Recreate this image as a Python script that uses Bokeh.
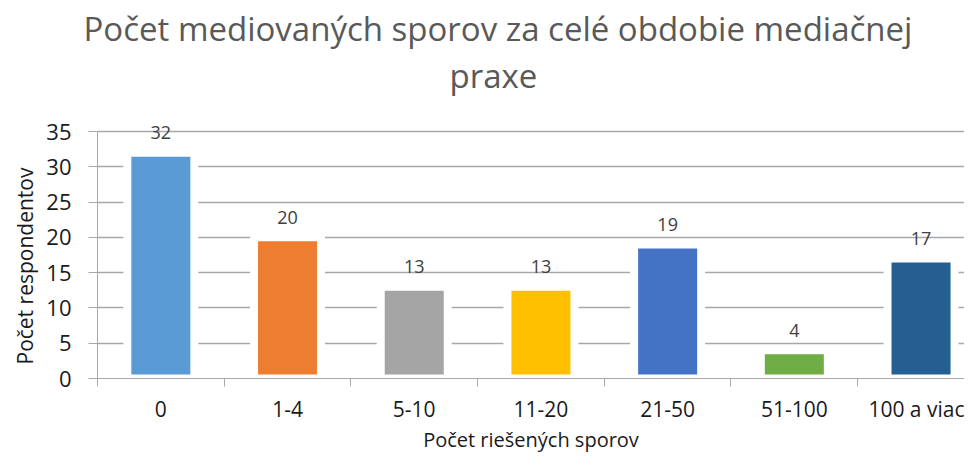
from bokeh.plotting import figure
from bokeh.models import Range1d, FixedTicker, Title, ColumnDataSource
from bokeh.core.properties import value
from bokeh.embed import file_html
from bokeh.resources import INLINE

categories = ["0", "1-4", "5-10", "11-20", "21-50", "51-100", "100 a viac"]
counts = [32, 20, 13, 13, 19, 4, 17]
bar_colors = ["#5B9BD5", "#ED7D31", "#A5A5A5", "#FFC000", "#4472C4", "#70AD47", "#255E91"]
y_ticks = [0, 5, 10, 15, 20, 25, 30, 35]

title_line1 = "Počet mediovaných sporov za celé obdobie mediačnej"
title_line2 = "praxe"
x_title = "Počet riešených sporov"
y_title = "Počet respondentov"

FONT = "Open Sans"
GRAY = "#a8a8a8"
DARK = "#1a1a1a"

centers = [i + 0.5 for i in range(len(categories))]
bounds = list(range(len(categories) + 1))

src = ColumnDataSource(dict(x=centers, top=counts, color=bar_colors,
                            label=[str(v) for v in counts]))

# value axis runs to 35; the frame leaves headroom for the value labels
p = figure(width=964, height=458,
           x_range=Range1d(0, 6.843), y_range=Range1d(0, 39.82),
           output_backend="svg", toolbar_location=None,
           min_border_left=97, min_border_right=0,
           min_border_top=97, min_border_bottom=80,
           outline_line_color=None)

p.vbar(x="x", top="top", width=0.529, bottom=0, source=src,
       fill_color="color", line_color="white", line_width=8)

p.text(x="x", y="top", text="label", source=src,
       text_align="center", text_baseline="alphabetic", y_offset=-20,
       text_font=value(FONT), text_font_size="18px", text_color="#404040")

# y axis
ya = p.yaxis[0]
ya.ticker = FixedTicker(ticks=y_ticks)
ya.bounds = (y_ticks[0], y_ticks[-1])
ya.major_label_text_font = FONT
ya.major_label_text_font_size = "22px"
ya.major_label_text_color = DARK
ya.major_label_standoff = 17
ya.axis_line_color = GRAY
ya.major_tick_line_color = GRAY
ya.major_tick_out = 9
ya.major_tick_in = 0
ya.minor_tick_line_color = None

# y axis title, centred on the 0-35 span of the axis
p.add_layout(Title(text=y_title, align="left", offset=14,
                   vertical_align="bottom", standoff=10,
                   text_font=FONT, text_font_size="21px",
                   text_font_style="normal", text_color=DARK), "left")

# x axis
xa = p.xaxis[0]
xa.ticker = FixedTicker(ticks=centers, minor_ticks=bounds)
xa.major_label_overrides = {c: lab for c, lab in zip(centers, categories)}
xa.major_label_text_font = FONT
xa.major_label_text_font_size = "21px"
xa.major_label_text_color = DARK
xa.major_label_standoff = 8
xa.axis_label = x_title
xa.axis_label_text_font = FONT
xa.axis_label_text_font_size = "20px"
xa.axis_label_text_font_style = "normal"
xa.axis_label_text_color = DARK
xa.axis_label_standoff = 0
xa.axis_line_color = GRAY
xa.major_tick_line_color = None
xa.minor_tick_line_color = GRAY
xa.minor_tick_out = 8
xa.minor_tick_in = 0

p.xgrid.grid_line_color = None
p.ygrid.ticker = FixedTicker(ticks=y_ticks)
p.ygrid.grid_line_color = GRAY
p.ygrid.grid_line_width = 1.5

# chart title: two lines (first added sits closest to the plot)
p.add_layout(Title(text=title_line2, align="left", offset=352, standoff=0,
                   text_font=FONT, text_font_size="33px",
                   text_font_style="normal", text_color="#595959"), "above")
p.add_layout(Title(text=title_line1, align="left", offset=-14, standoff=0,
                   text_font=FONT, text_font_size="33px",
                   text_font_style="normal", text_color="#595959"), "above")

open("out.html", "w").write(file_html(p, INLINE))
